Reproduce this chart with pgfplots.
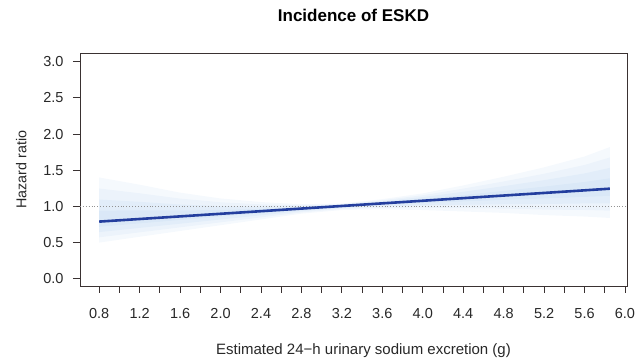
\documentclass[border=0pt]{standalone}
\usepackage{pgfplots}
\pgfplotsset{compat=1.18}
\usepackage{pgfplotstable}
\usepgfplotslibrary{fillbetween}
\usepackage{fontspec}
\setmainfont{Liberation Sans}
\definecolor{axcol}{RGB}{58,50,50}
\definecolor{linecol}{RGB}{35,62,158}
\definecolor{bandcol}{RGB}{185,212,240}
\definecolor{txtcol}{RGB}{40,40,40}
\pgfplotstableread{
x c u l
0.80 0.790 1.40 0.50
1.20 0.826 1.30 0.58
1.60 0.862 1.19 0.66
2.00 0.898 1.11 0.74
2.40 0.934 1.06 0.82
2.80 0.970 1.03 0.90
3.20 1.006 1.04 0.95
3.60 1.042 1.10 0.96
4.00 1.078 1.18 0.95
4.40 1.114 1.29 0.93
4.80 1.150 1.41 0.91
5.20 1.186 1.54 0.88
5.60 1.222 1.69 0.86
5.85 1.245 1.82 0.84
}\band
\begin{document}
\begin{tikzpicture}
\begin{axis}[
  scale only axis,
  width=547pt, height=233pt,
  xmin=0.61, xmax=6.02, ymin=-0.1, ymax=3.12,
  axis line style={axcol, line width=0.9pt},
  xtick={0.8,1.2,...,6.0},
  minor xtick={1.0,1.4,...,5.8},
  ytick={0,0.5,...,3.0},
  /pgf/number format/fixed,
  /pgf/number format/fixed zerofill,
  /pgf/number format/precision=1,
  /pgf/number format/assume math mode=true,
  tick style={axcol, line width=0.9pt},
  tick align=outside,
  major tick length=7pt, minor tick length=7pt,
  xtick pos=bottom, ytick pos=left,
  ticklabel style={font=\fontsize{14.5}{16}\selectfont, text=txtcol},
  xticklabel style={yshift=-12pt},
  yticklabel style={xshift=-6pt},
  title={\bfseries Incidence of ESKD},
  title style={font=\fontsize{17}{19}\selectfont, yshift=22pt},
  xlabel={Estimated 24\textminus h urinary sodium excretion (g)},
  ylabel={Hazard ratio},
  xlabel style={font=\fontsize{15}{17}\selectfont, text=txtcol, yshift=-18pt, xshift=10pt},
  ylabel style={font=\fontsize{14.3}{16}\selectfont, text=txtcol, yshift=10pt},
  clip=false,
]
% outer band
\addplot[name path=u1, draw=none] table[x=x, y=u] {\band};
\addplot[name path=l1, draw=none] table[x=x, y=l] {\band};
\addplot[bandcol, opacity=0.14] fill between[of=u1 and l1];
% middle band
\addplot[name path=u2, draw=none] table[x=x, y expr={\thisrow{c}+0.75*(\thisrow{u}-\thisrow{c})}] {\band};
\addplot[name path=l2, draw=none] table[x=x, y expr={\thisrow{c}+0.75*(\thisrow{l}-\thisrow{c})}] {\band};
\addplot[bandcol, opacity=0.16] fill between[of=u2 and l2];
% inner band
\addplot[name path=u3, draw=none] table[x=x, y expr={\thisrow{c}+0.5*(\thisrow{u}-\thisrow{c})}] {\band};
\addplot[name path=l3, draw=none] table[x=x, y expr={\thisrow{c}+0.5*(\thisrow{l}-\thisrow{c})}] {\band};
\addplot[bandcol, opacity=0.18] fill between[of=u3 and l3];
% innermost band
\addplot[name path=u4, draw=none] table[x=x, y expr={\thisrow{c}+0.25*(\thisrow{u}-\thisrow{c})}] {\band};
\addplot[name path=l4, draw=none] table[x=x, y expr={\thisrow{c}+0.25*(\thisrow{l}-\thisrow{c})}] {\band};
\addplot[bandcol, opacity=0.2] fill between[of=u4 and l4];
% reference line
\addplot[gray!85, dotted, line width=0.9pt] coordinates {(0.61,1) (6.02,1)};
% estimate
\addplot[linecol, line width=2.6pt] table[x=x, y=c] {\band};
\end{axis}
\path (current axis.south west) ++(-80pt,-73pt) rectangle ++(643pt,359pt);
\end{tikzpicture}
\end{document}
